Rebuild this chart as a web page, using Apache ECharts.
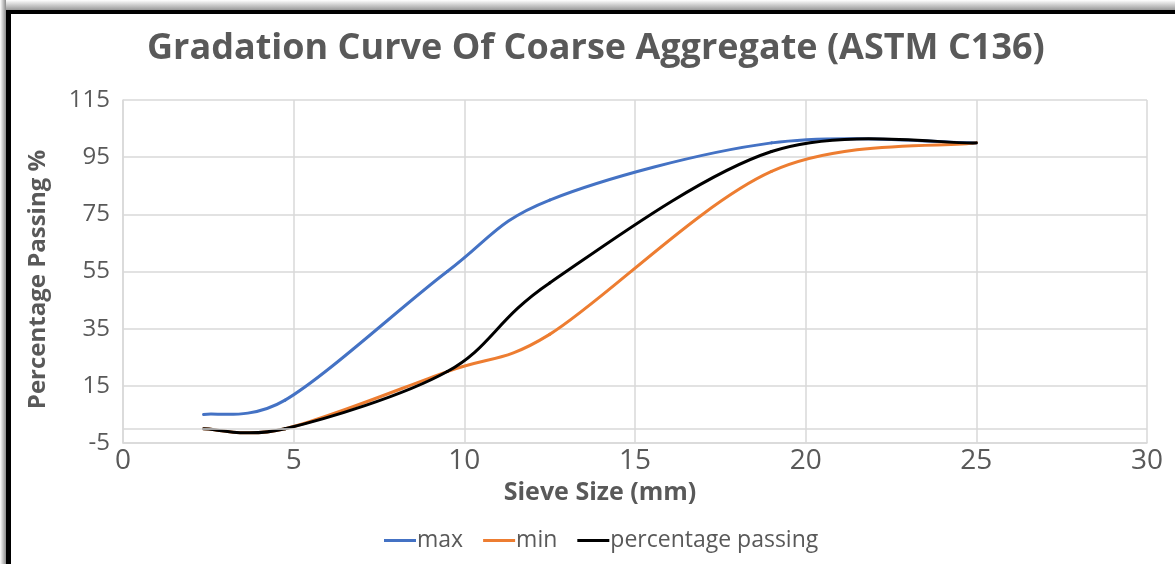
<!DOCTYPE html>
<html>
<head>
<meta charset="utf-8">
<script src="https://cdn.jsdelivr.net/npm/echarts@6/dist/echarts.min.js"></script>
<style>
  html, body { margin: 0; padding: 0; background: #fff; }
  #wrap { position: relative; width: 1175px; height: 564px; overflow: hidden; background: #fff; }
  #shadowTop { position: absolute; left: 0; top: 0; width: 1175px; height: 10px;
    background: linear-gradient(to bottom, #ffffff, #9a9a9a); }
  #shadowLeft { position: absolute; left: 0; top: 0; width: 6px; height: 564px;
    background: linear-gradient(to right, #ffffff, #8a8a8a); }
  #frameTop { position: absolute; left: 6px; top: 10px; width: 1169px; height: 4px; background: #000; }
  #frameLeft { position: absolute; left: 6px; top: 10px; width: 5px; height: 554px; background: #000; }
  #chart { position: absolute; left: 0; top: 0; width: 1175px; height: 564px; }
</style>
</head>
<body>
<div id="wrap">
  <div id="chart"></div>
  <div id="shadowTop"></div>
  <div id="shadowLeft"></div>
  <div id="frameTop"></div>
  <div id="frameLeft"></div>
</div>
<script>
// Sieve sizes (mm)
var sieveSizes = [2.36, 4.75, 9.5, 12.5, 19, 25];
// Percentage passing limits and measured values
var maxValues = [5, 10, 55, 80, 100, 100];
var minValues = [0, 0, 20, 33, 90, 100];
var passingValues = [0, 0, 20, 51, 97, 100];
var seriesNames = ['max', 'min', 'percentage passing'];
var xTicks = { min: 0, max: 30, interval: 5 };
var yTicks = { min: -5, max: 115, interval: 20 };

function pairs(xs, ys) {
  return xs.map(function (x, i) { return [x, ys[i]]; });
}

var textColor = '#595959';
var gridColor = '#d9d9d9';

var chart = echarts.init(document.getElementById('chart'), null, { renderer: 'canvas' });

function dist(a, b) {
  var dx = a[0] - b[0], dy = a[1] - b[1];
  return Math.sqrt(dx * dx + dy * dy);
}

// Spreadsheet-style smoothed segment (Bezier through the data points),
// positioned through the chart's own coordinate system (api.coord).
function smoothSeries(name, values, color) {
  return {
    name: name,
    type: 'custom',
    data: pairs(sieveSizes, values),
    encode: { x: 0, y: 1 },
    itemStyle: { color: color },
    z: 3,
    renderItem: function (params, api) {
      var i = params.dataIndex;
      if (i >= sieveSizes.length - 1) return null;
      var pts = sieveSizes.map(function (x, k) { return api.coord([x, values[k]]); });
      var p1 = pts[i], p2 = pts[i + 1];
      var p0 = i > 0 ? pts[i - 1] : p1;
      var p3 = i + 2 < pts.length ? pts[i + 2] : p2;
      var d12 = dist(p1, p2), d02 = dist(p0, p2), d13 = dist(p1, p3);
      var f1 = 1 / 6, f2 = 1 / 6;
      if (d02 > 0 && d02 / 6 > d12 / 2) f1 = (d12 / 2) / d02;
      if (d13 > 0 && d13 / 6 > d12 / 2) f2 = (d12 / 2) / d13;
      var c1 = [p1[0] + (p2[0] - p0[0]) * f1, p1[1] + (p2[1] - p0[1]) * f1];
      var c2 = [p2[0] - (p3[0] - p1[0]) * f2, p2[1] - (p3[1] - p1[1]) * f2];
      return {
        type: 'bezierCurve',
        shape: {
          x1: p1[0], y1: p1[1],
          cpx1: c1[0], cpy1: c1[1],
          cpx2: c2[0], cpy2: c2[1],
          x2: p2[0], y2: p2[1]
        },
        style: { stroke: color, lineWidth: 3, fill: null, lineCap: 'round' }
      };
    }
  };
}

var series = [
  smoothSeries(seriesNames[0], maxValues, '#4472C4'),
  smoothSeries(seriesNames[1], minValues, '#ED7D31'),
  smoothSeries(seriesNames[2], passingValues, '#000000'),
  {
    // horizontal axis line crossing at y = 0 (as in the spreadsheet chart)
    type: 'line',
    name: 'axis0',
    data: [],
    silent: true,
    markLine: {
      silent: true,
      symbol: ['none', 'none'],
      label: { show: false },
      lineStyle: { color: gridColor, width: 1.5, type: 'solid' },
      data: [{ yAxis: 0 }]
    },
    z: 1
  }
];

chart.setOption({
  animation: false,
  backgroundColor: 'transparent',
  title: {
    text: 'Gradation Curve Of Coarse Aggregate (ASTM C136)',
    left: 142,
    top: 26,
    textStyle: {
      fontFamily: 'Open Sans',
      fontWeight: 'bold',
      fontSize: 36,
      color: textColor
    }
  },
  grid: { left: 123, right: 28, top: 100, bottom: 121, containLabel: false },
  legend: {
    bottom: 7,
    left: 379,
    icon: 'rect',
    itemWidth: 32,
    itemHeight: 3,
    itemGap: 20,
    data: seriesNames,
    textStyle: { fontFamily: 'Open Sans', fontSize: 23, color: textColor, padding: [0, 0, 0, -4] }
  },
  xAxis: {
    type: 'value',
    min: xTicks.min,
    max: xTicks.max,
    interval: xTicks.interval,
    name: 'Sieve Size (mm)',
    nameLocation: 'middle',
    nameGap: 33,
    nameTextStyle: { fontFamily: 'Open Sans', fontWeight: 'bold', fontSize: 25, color: textColor, padding: [0, 70, 0, 0] },
    axisLine: { show: true, onZero: false, lineStyle: { color: gridColor, width: 1.5 } },
    axisTick: { show: false },
    axisLabel: { fontFamily: 'Open Sans', fontSize: 28, color: textColor, margin: 4 },
    splitLine: { show: true, lineStyle: { color: gridColor, width: 1.5 } }
  },
  yAxis: {
    type: 'value',
    min: yTicks.min,
    max: yTicks.max,
    interval: yTicks.interval,
    name: 'Percentage Passing %',
    nameLocation: 'middle',
    nameGap: 73,
    nameTextStyle: { fontFamily: 'Open Sans', fontWeight: 'bold', fontSize: 24, color: textColor, padding: [0, 16, 0, 0] },
    axisLine: { show: true, lineStyle: { color: gridColor, width: 1.5 } },
    axisTick: { show: false },
    axisLabel: { fontFamily: 'Open Sans', fontSize: 24, color: textColor, margin: 13 },
    splitLine: { show: true, lineStyle: { color: gridColor, width: 1.5 } }
  },
  series: series
});
</script>
</body>
</html>
